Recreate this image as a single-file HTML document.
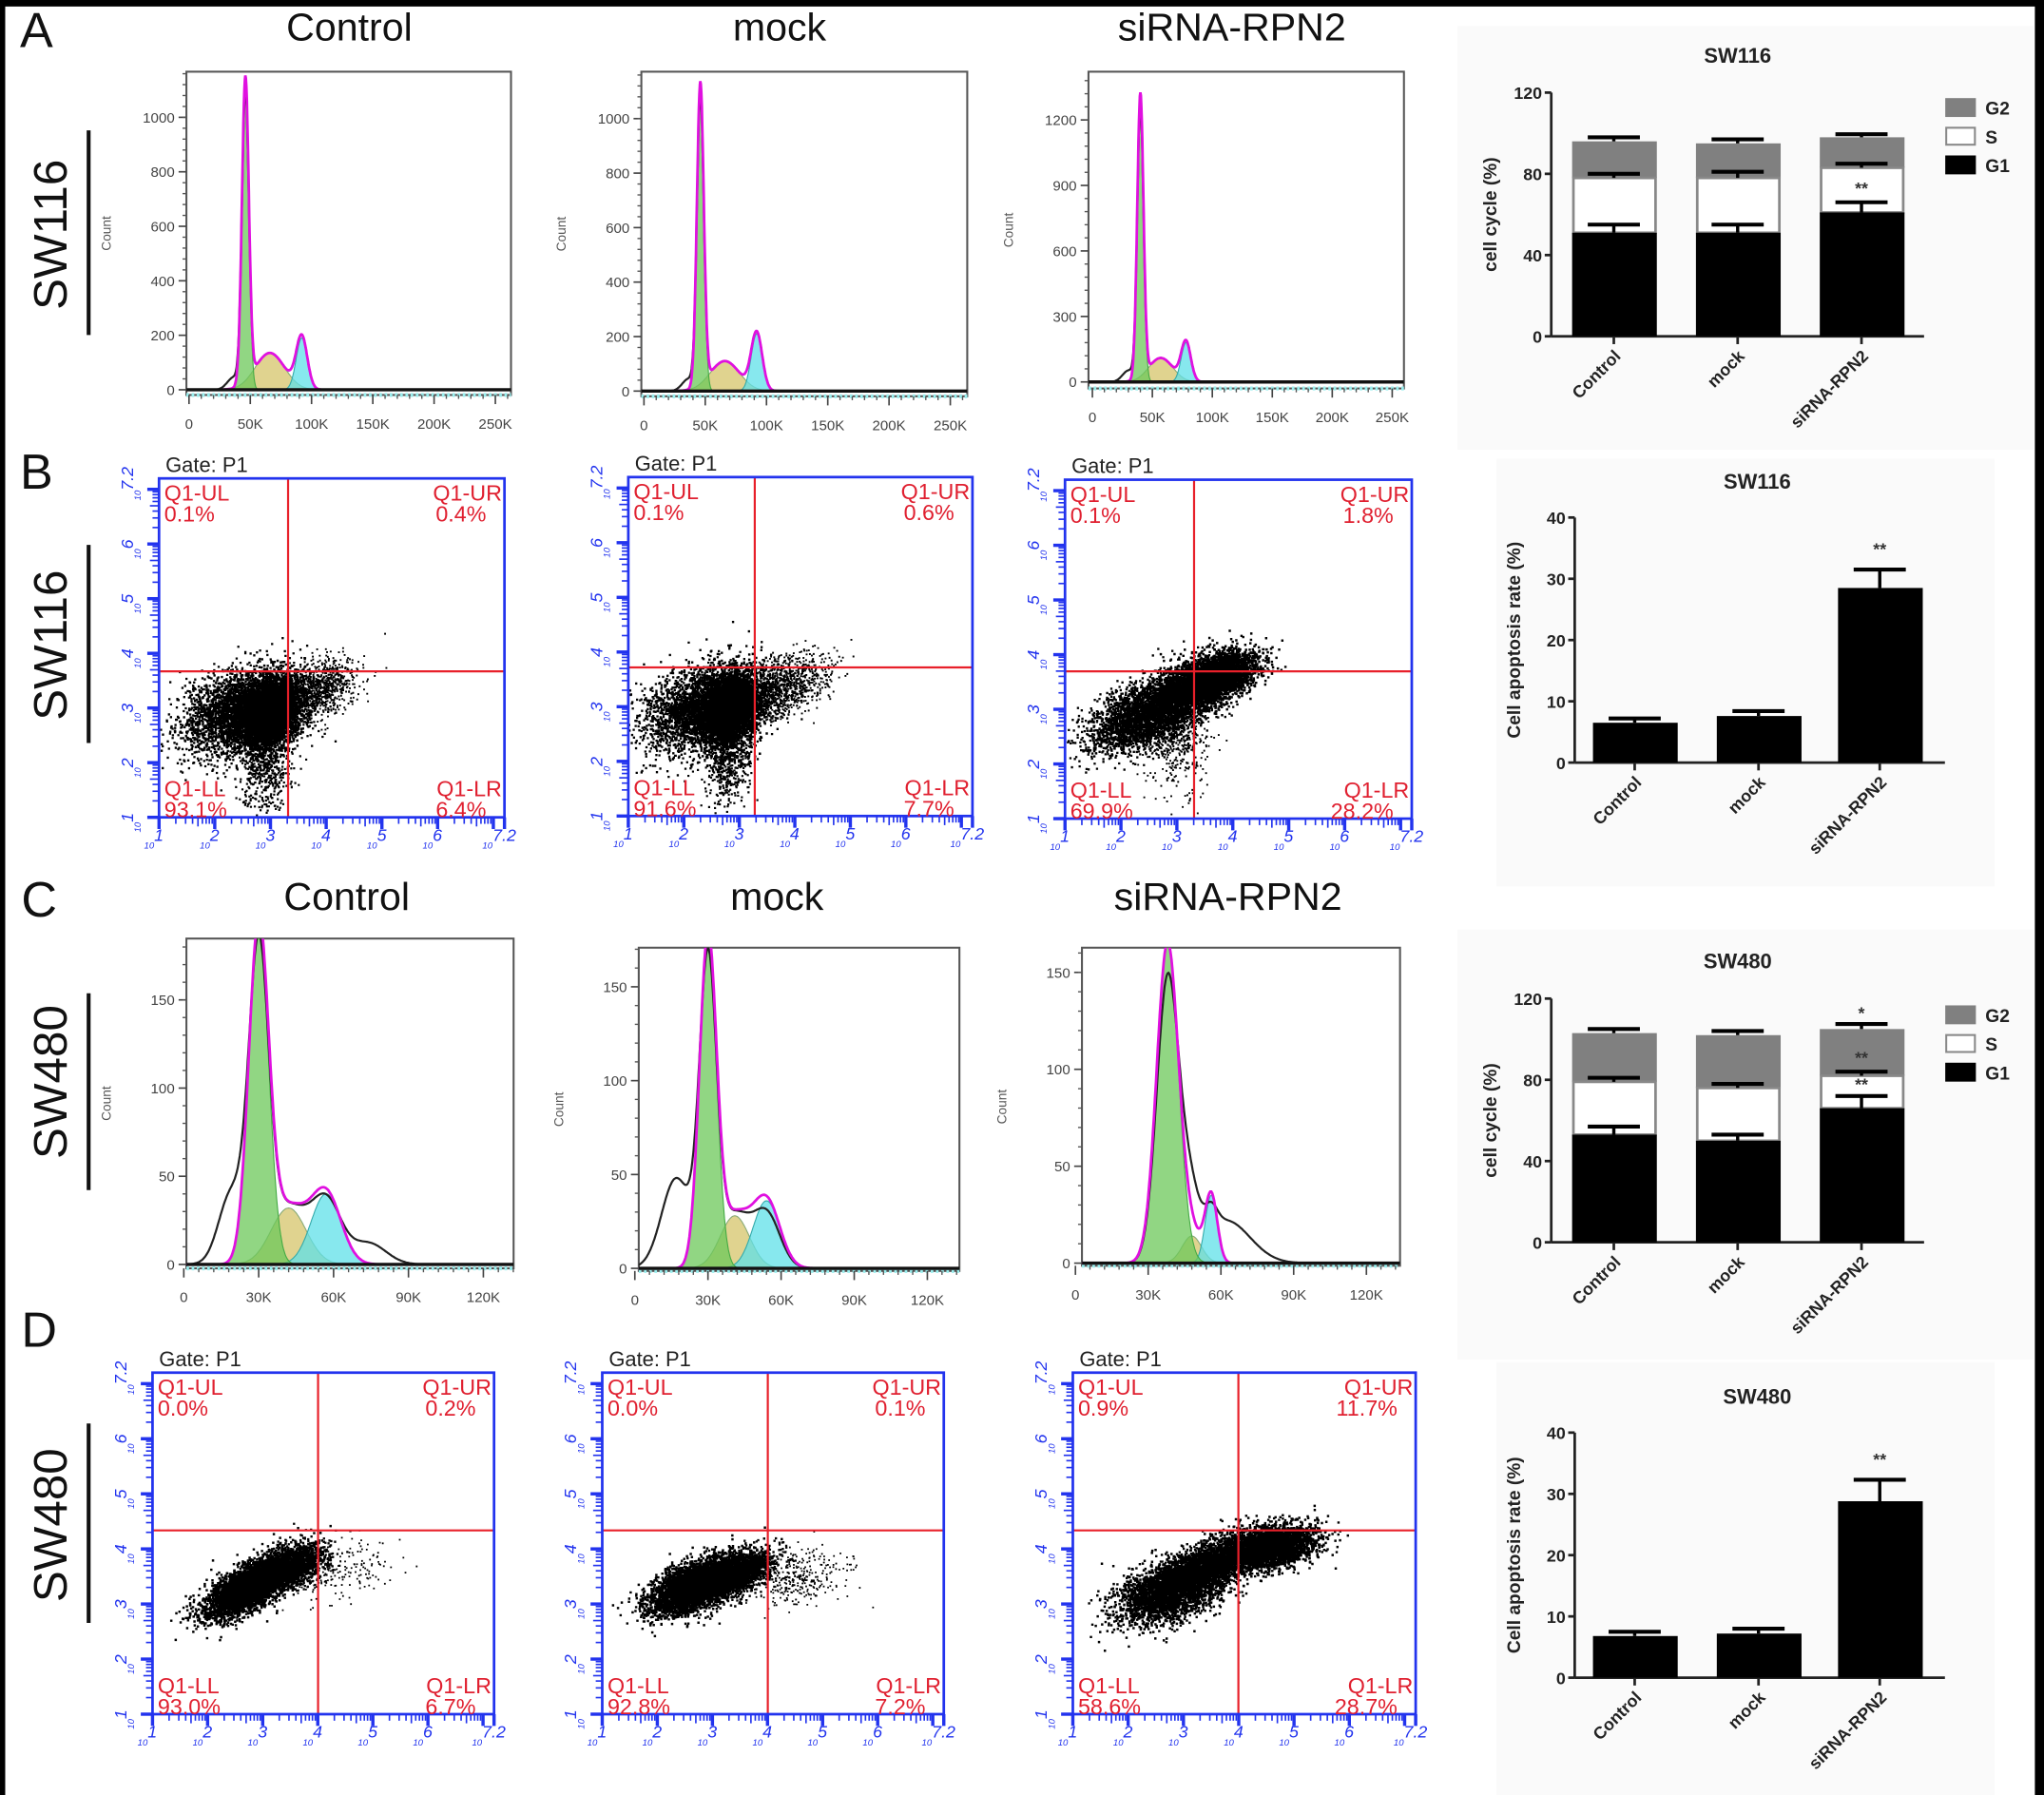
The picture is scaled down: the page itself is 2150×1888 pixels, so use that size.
<!DOCTYPE html>
<html><head><meta charset="utf-8"><style>
html,body{margin:0;padding:0;background:#fff;}
svg{display:block;font-family:"Liberation Sans",Arial,sans-serif;}
</style></head><body>
<svg id="s" xmlns="http://www.w3.org/2000/svg" width="2150" height="1888" viewBox="0 0 1568 1377" preserveAspectRatio="none">
<defs id="defs"></defs>
</svg>
<script>
const NS='http://www.w3.org/2000/svg';
const svg=document.getElementById('s');
const defs=document.getElementById('defs');
function el(tag,attrs,txt,parent){const e=document.createElementNS(NS,tag);for(const k in attrs)e.setAttribute(k,attrs[k]);if(txt!=null)e.textContent=txt;(parent||svg).appendChild(e);return e;}
let seed=12345;function rnd(){seed=(seed*16807)%2147483647;return seed/2147483647;}
function gauss(){let u=rnd()||1e-9,v=rnd();return Math.sqrt(-2*Math.log(u))*Math.cos(2*Math.PI*v);}
let cid=0;
function clip(x,y,w,h){const id='c'+(cid++);const c=el('clipPath',{id:id},null,defs);el('rect',{x:x,y:y,width:w,height:h},null,c);return 'url(#'+id+')';}

el('rect',{x:0,y:0,width:1568,height:1377,fill:'#fff'});
el('rect',{x:0,y:0,width:1568,height:5,fill:'#000'});
el('rect',{x:0,y:0,width:4,height:1377,fill:'#000'});
el('rect',{x:1561,y:0,width:7,height:1377,fill:'#000'});

[['A',28,36],['B',28,375],['C',30,703],['D',30,1033]].forEach(a=>el('text',{x:a[1],y:a[2],'font-size':38,'text-anchor':'middle',fill:'#111'},a[0]));
[[268,31],[598,31],[945,31],[266,698],[596,698],[942,698]].forEach((p,i)=>el('text',{x:p[0],y:p[1],'font-size':30,'text-anchor':'middle',fill:'#111'},['Control','mock','siRNA-RPN2'][i%3]));
[['SW116',180,100,257],['SW116',495,418,570],['SW480',830,762,913],['SW480',1170,1092,1245]].forEach(a=>{
 el('text',{x:0,y:0,'font-size':36,'text-anchor':'middle',transform:'translate(51,'+a[1]+') rotate(-90)',fill:'#111'},a[0]);
 el('line',{x1:68,y1:a[2],x2:68,y2:a[3],stroke:'#111','stroke-width':3});
});

function hist(o){
 const X=v=>o.px0+v*o.kx, Y=c=>o.py0-c*o.ky;
 const G=(v,p)=>p[2]*Math.exp(-0.5*((v-p[0])/p[1])**2);
 const vmax=(o.bx1-o.px0)/o.kx;
 el('rect',{x:o.bx0,y:o.by0,width:o.bx1-o.bx0,height:o.by1-o.by0,fill:'#fff',stroke:'#555','stroke-width':1.5});
 el('line',{x1:o.bx0,y1:o.by1,x2:o.bx1,y2:o.by1,stroke:'#9ee','stroke-width':3,'stroke-dasharray':'2,2'});
 const g=el('g',{'clip-path':clip(o.bx0,o.by0,o.bx1-o.bx0,o.by1-o.by0+2)});
 function poly(fn,fill,stroke){let d='M'+X(0)+','+Y(0);for(let v=0;v<=vmax;v+=0.4)d+=' L'+X(v).toFixed(1)+','+Y(fn(v)).toFixed(1);d+=' L'+X(vmax)+','+Y(0)+'Z';el('path',{d:d,fill:fill,'fill-opacity':0.75,stroke:stroke,'stroke-width':0.8},null,g);}
 function line(fn,stroke,w){let d='';for(let v=0;v<=vmax;v+=0.4)d+=(d?' L':'M')+X(v).toFixed(1)+','+Y(fn(v)).toFixed(1);el('path',{d:d,fill:'none',stroke:stroke,'stroke-width':w},null,g);}
 poly(v=>G(v,o.s),'#d6c46a','#8a7');
 poly(v=>G(v,o.g2),'#5fe0e8','#3aa');
 poly(v=>G(v,o.g1),'#6cc85a','#4a4');
 const fit=v=>G(v,o.g1)+G(v,o.s)+G(v,o.g2);
 const data=v=>{let s=G(v,o.g1)*(o.dk||0.95)+G(v,o.s)+G(v,o.g2)*(o.d2==null?1:o.d2);(o.ex||[]).forEach(p=>s+=G(v,p));return s;};
 line(data,'#222',1.6);
 line(fit,'#e010e0',2);
 el('line',{x1:o.bx0,y1:o.py0,x2:o.bx1,y2:o.py0,stroke:'#111','stroke-width':2.5},null,g);
 o.yt.forEach((t,i)=>{const y=Y(t);el('line',{x1:o.bx0-6,y1:y,x2:o.bx0,y2:y,stroke:'#444','stroke-width':1.2});
  el('text',{x:o.bx0-9,y:y+4,'font-size':11,'text-anchor':'end',fill:'#444'},String(t));
  if(i<o.yt.length-1){const st=(o.yt[1]-o.yt[0])/5;for(let k=1;k<5;k++){const yy=Y(t+st*k);el('line',{x1:o.bx0-3,y1:yy,x2:o.bx0,y2:yy,stroke:'#555','stroke-width':1});}}
 });
 for(let yy=Y(o.yt[o.yt.length-1]);yy>o.by0;yy-=(o.ky*(o.yt[1]-o.yt[0])/5))el('line',{x1:o.bx0-3,y1:yy,x2:o.bx0,y2:yy,stroke:'#555','stroke-width':1});
 el('text',{x:0,y:0,'font-size':10,'text-anchor':'middle',fill:'#555',transform:'translate('+(o.bx0-58)+','+((o.by0+o.by1)/2)+') rotate(-90)'},'Count');
 o.xt.forEach((t,i)=>{const x=X(t);el('line',{x1:x,y1:o.by1,x2:x,y2:o.by1+7,stroke:'#444','stroke-width':1.2});
  el('text',{x:x,y:o.by1+26,'font-size':11,'text-anchor':'middle',fill:'#444'},t===0?'0':t+'K');
  const st=(o.xt[1]-o.xt[0])/5;for(let k=1;k<5;k++){const xx=X(t+st*k);if(xx<o.bx1)el('line',{x1:xx,y1:o.by1,x2:xx,y2:o.by1+3,stroke:'#555','stroke-width':1});}
 });
}
hist({bx0:143,by0:55,bx1:392,by1:303,px0:145,kx:0.94,py0:299,ky:0.209,yt:[0,200,400,600,800,1000],xt:[0,50,100,150,200,250],
 g1:[46,2.8,1120],s:[66,12,135],g2:[92,4.5,190],ex:[[36,5,40]]});
hist({bx0:492,by0:55,bx1:742,by1:304,px0:494,kx:0.94,py0:300,ky:0.209,yt:[0,200,400,600,800,1000],xt:[0,50,100,150,200,250],
 g1:[46,2.8,1110],s:[66,12,110],g2:[92,4.5,210],ex:[[36,5,40]]});
hist({bx0:835,by0:55,bx1:1077,by1:298,px0:838,kx:0.92,py0:293,ky:0.1675,yt:[0,300,600,900,1200],xt:[0,50,100,150,200,250],
 g1:[40,2.6,1300],s:[57,10,110],g2:[78,4,180],ex:[[30,5,50]]});
hist({bx0:143,by0:720,bx1:394,by1:973,px0:141,kx:1.915,py0:970,ky:1.353,yt:[0,50,100,150],xt:[0,30,60,90,120],
 g1:[30,4,190],s:[42,7,32],g2:[57,6,40],dk:0.93,d2:0.9,ex:[[19,5,40],[74,7,12]]});
hist({bx0:490,by0:727,bx1:736,by1:975,px0:487,kx:1.87,py0:973,ky:1.44,yt:[0,50,100,150],xt:[0,30,60,90,120],
 g1:[30,3.5,175],s:[41,6,28],g2:[54,5.5,36],dk:0.92,d2:0.8,ex:[[17,6,48]]});
hist({bx0:830,by0:727,bx1:1074,by1:971,px0:825,kx:1.86,py0:969,ky:1.487,yt:[0,50,100,150],xt:[0,30,60,90,120],
 g1:[38,4.5,165],s:[48,4,14],g2:[56,2.5,35],dk:0.88,d2:0.3,ex:[[62,10,22],[46,4,18]]});

function dots(o){
 const w=o.x1-o.x0,h=o.y1-o.y0;
 const X=d=>o.x0+(d-1)/6.2*w, Y=d=>o.y1-(d-1)/6.2*h;
 const blue='#2233ee';
 el('rect',{x:o.x0,y:o.y0,width:w,height:h,fill:'#fff'});
 const g=el('g',{'clip-path':clip(o.x0,o.y0,w,h)});
 let d='';
 o.cl.forEach(c=>{for(let i=0;i<c[6];i++){const a=gauss(),b=gauss();const dx=c[0]+c[2]*a;const dy=c[1]+c[3]*(c[4]*a+Math.sqrt(1-c[4]*c[4])*b);
  const px=X(dx),py=Y(dy);d+='M'+px.toFixed(1)+' '+py.toFixed(1)+'h'+c[5]+'v'+c[5]+'h-'+c[5]+'z';}});
 el('path',{d:d,fill:'#000'},null,g);
 el('line',{x1:o.lx,y1:o.y0,x2:o.lx,y2:o.y1,stroke:'#e8202a','stroke-width':1.6});
 el('line',{x1:o.x0,y1:o.ly,x2:o.x1,y2:o.ly,stroke:'#e8202a','stroke-width':1.6});
 el('rect',{x:o.x0,y:o.y0,width:w,height:h,fill:'none',stroke:blue,'stroke-width':2});
 for(let dec=1;dec<=7;dec++){
  const px=X(dec),py=Y(dec);
  el('line',{x1:px,y1:o.y1,x2:px,y2:o.y1+9,stroke:blue,'stroke-width':2.5});
  el('line',{x1:o.x0-9,y1:py,x2:o.x0,y2:py,stroke:blue,'stroke-width':2.5});
  for(let k=2;k<=9;k++){const v=dec+Math.log10(k);if(v>7.2)break;const px=X(v),py=Y(v);const L=k==5?7:5;
   el('line',{x1:px,y1:o.y1,x2:px,y2:o.y1+L,stroke:blue,'stroke-width':1.2});
   el('line',{x1:o.x0-L,y1:py,x2:o.x0,y2:py,stroke:blue,'stroke-width':1.2});}
 }
 el('line',{x1:X(7.2),y1:o.y1,x2:X(7.2),y2:o.y1+9,stroke:blue,'stroke-width':2.5});
 [1,2,3,4,5,6,7.2].forEach(dec=>{const px=X(dec),py=Y(dec);
  const t=el('text',{x:px-4,y:o.y1+24,'font-size':13,'text-anchor':'middle',fill:blue,'font-style':'italic'});
  el('tspan',{'font-size':7},'10',t);el('tspan',{dy:-6},String(dec),t);
  const t2=el('text',{x:0,y:0,'font-size':13,'text-anchor':'middle',fill:blue,'font-style':'italic',transform:'translate('+(o.x0-14)+','+(py+4)+') rotate(-90)'});
  el('tspan',{'font-size':7},'10',t2);el('tspan',{dy:-6},String(dec),t2);
 });
 el('text',{x:o.x0+5,y:o.y0-5,'font-size':16,fill:'#222'},'Gate: P1');
 const red='#e02030',fs=17;
 el('text',{x:o.x0+4,y:o.y0+17,'font-size':fs,fill:red},'Q1-UL');
 el('text',{x:o.x0+4,y:o.y0+33,'font-size':fs,fill:red},o.p[0]);
 el('text',{x:o.x1-2,y:o.y0+17,'font-size':fs,fill:red,'text-anchor':'end'},'Q1-UR');
 el('text',{x:o.x1-14,y:o.y0+33,'font-size':fs,fill:red,'text-anchor':'end'},o.p[1]);
 el('text',{x:o.x0+4,y:o.y1-16,'font-size':fs,fill:red},'Q1-LL');
 el('text',{x:o.x0+4,y:o.y1,'font-size':fs,fill:red},o.p[2]);
 el('text',{x:o.x1-2,y:o.y1-16,'font-size':fs,fill:red,'text-anchor':'end'},'Q1-LR');
 el('text',{x:o.x1-14,y:o.y1,'font-size':fs,fill:red,'text-anchor':'end'},o.p[3]);
}
dots({x0:122,y0:367,x1:387,y1:627,lx:221,ly:515,p:['0.1%','0.4%','93.1%','6.4%'],
 cl:[[2.5,2.95,0.55,0.38,0.3,1.7,3500],[2.95,2.95,0.25,0.3,0.2,1.8,4000],[2.9,2.1,0.22,0.45,0.1,1.6,700],[3.8,3.35,0.35,0.28,0.4,1.4,900]]});
dots({x0:482,y0:366,x1:746,y1:626,lx:579,ly:512,p:['0.1%','0.6%','91.6%','7.7%'],
 cl:[[2.4,3.0,0.55,0.38,0.3,1.7,3500],[2.8,3.0,0.25,0.3,0.2,1.8,4000],[2.8,2.1,0.22,0.45,0.1,1.6,600],[3.8,3.4,0.4,0.28,0.4,1.4,1000]]});
dots({x0:817,y0:368,x1:1083,y1:628,lx:916,ly:515,p:['0.1%','1.8%','69.9%','28.2%'],
 cl:[[2.5,2.95,0.55,0.36,0.55,1.7,3500],[3.55,3.55,0.4,0.25,0.5,1.8,4000],[3.0,2.4,0.3,0.5,0.1,1.4,400]]});
dots({x0:117,y0:1053,x1:379,y1:1315,lx:244,ly:1174,p:['0.0%','0.2%','93.0%','6.7%'],
 cl:[[2.8,3.35,0.42,0.28,0.7,1.8,4500],[3.5,3.7,0.3,0.2,0.5,1.7,1500],[4.4,3.6,0.45,0.28,0.3,1.3,200]]});
dots({x0:462,y0:1053,x1:724,y1:1315,lx:589,ly:1174,p:['0.0%','0.1%','92.8%','7.2%'],
 cl:[[2.7,3.35,0.42,0.26,0.6,1.8,4500],[3.5,3.6,0.3,0.2,0.5,1.7,1500],[4.5,3.5,0.45,0.25,0.2,1.3,350]]});
dots({x0:823,y0:1053,x1:1086,y1:1315,lx:950,ly:1174,p:['0.9%','11.7%','58.6%','28.7%'],
 cl:[[2.8,3.3,0.5,0.3,0.5,1.8,3500],[3.5,3.75,0.35,0.22,0.5,1.7,1500],[4.5,4.05,0.42,0.2,0.3,1.8,3500]]});

[[1118,20,442,325],[1148,352,382,328],[1118,713,442,330],[1148,1045,382,332]].forEach(r=>el('rect',{x:r[0],y:r[1],width:r[2],height:r[3],fill:'#fafafa'}));
const cats=['Control','mock','siRNA-RPN2'];
function errbar(cx,yb,yt){el('line',{x1:cx,y1:yb,x2:cx,y2:yt,stroke:'#000','stroke-width':2.5});el('line',{x1:cx-20,y1:yt,x2:cx+20,y2:yt,stroke:'#000','stroke-width':3});}
function axes(ax,y0,k,ticks,xend,centers,title,tx,ty,ylab){
 el('text',{x:tx,y:ty,'font-size':16,'font-weight':'bold','text-anchor':'middle',fill:'#222'},title);
 el('line',{x1:ax,y1:y0,x2:ax,y2:y0-k*ticks[ticks.length-1],stroke:'#222','stroke-width':2});
 el('line',{x1:ax,y1:y0,x2:xend,y2:y0,stroke:'#222','stroke-width':2});
 ticks.forEach(t=>{const y=y0-k*t;el('line',{x1:ax-5,y1:y,x2:ax,y2:y,stroke:'#222','stroke-width':2});el('text',{x:ax-7,y:y+5,'font-size':13,'font-weight':'bold','text-anchor':'end',fill:'#222'},String(t));});
 centers.forEach((c,i)=>{el('line',{x1:c,y1:y0,x2:c,y2:y0+6,stroke:'#222','stroke-width':2});
  el('text',{x:0,y:0,'font-size':13,'font-weight':'bold','text-anchor':'end',fill:'#222',transform:'translate('+(c+6)+','+(y0+16)+') rotate(-45)'},cats[i]);});
 el('text',{x:0,y:0,'font-size':14,'font-weight':'bold','text-anchor':'middle',fill:'#222',transform:'translate('+(ax-42)+','+(y0-k*ticks[ticks.length-1]/2)+') rotate(-90)'},ylab);
}
function cc(y0,data,stars,title,ty,legY){
 const k=1.558,ax=1190,centers=[1238,1333,1428];
 axes(ax,y0,k,[0,40,80,120],1476,centers,title,1333,ty,'cell cycle (%)');
 data.forEach((d,i)=>{const c=centers[i],x=c-32,w=65;
  el('rect',{x:x,y:y0-k*d[2],width:w,height:k*(d[2]-d[1]),fill:'#808080'});
  el('rect',{x:x+1,y:y0-k*d[1],width:w-2,height:k*(d[1]-d[0]),fill:'#fff',stroke:'#888','stroke-width':2});
  el('rect',{x:x,y:y0-k*d[0],width:w,height:k*d[0],fill:'#000'});
  errbar(c,y0-k*d[0],y0-k*d[3]);errbar(c,y0-k*d[1],y0-k*d[4]);errbar(c,y0-k*d[2],y0-k*d[5]);
 });
 stars.forEach(s=>el('text',{x:1428,y:y0-k*s[0],'font-size':13,'font-weight':'bold','text-anchor':'middle',fill:'#333'},s[1]));
 [['G2','#808080'],['S','#fff'],['G1','#000']].forEach((l,i)=>{const y=legY+i*22;
  el('rect',{x:1493,y:y-6,width:22,height:13,fill:l[1],stroke:i==1?'#888':l[1],'stroke-width':1.5});
  el('text',{x:1523,y:y+6,'font-size':14,'font-weight':'bold',fill:'#222'},l[0]);});
}
cc(258,[[51,78,96,55,80,98],[51,78,95,55,81,97],[61,83,98,66,85,99.5]],[[70,'**']],'SW116',48,82);
cc(953,[[53,79,103,57,81,105],[50,76,102,53,78,104],[66,82,105,72,84,107.5]],[[110,'*'],[88,'**'],[75,'**']],'SW480',743,778);
function apo(y0,vals,tops,title,ty){
 const k=4.7,ax=1208,centers=[1254,1349,1442];
 axes(ax,y0,k,[0,10,20,30,40],1492,centers,title,1348,ty,'Cell apoptosis rate (%)');
 vals.forEach((v,i)=>{const c=centers[i];el('rect',{x:c-32,y:y0-k*v,width:65,height:k*v,fill:'#000'});errbar(c,y0-k*v,y0-k*tops[i]);});
 el('text',{x:1442,y:y0-k*(tops[2]+2.4),'font-size':13,'font-weight':'bold','text-anchor':'middle',fill:'#333'},'**');
}
apo(585,[6.5,7.6,28.5],[7.2,8.4,31.5],'SW116',375);
apo(1287,[6.8,7.2,28.8],[7.5,8,32.3],'SW480',1077);
</script>
</body></html>
